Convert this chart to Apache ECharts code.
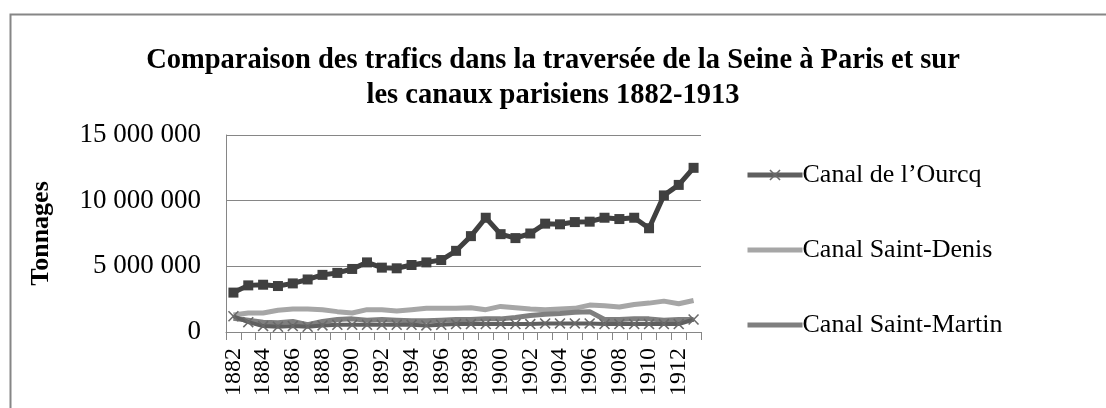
<!DOCTYPE html>
<html>
<head>
<meta charset="utf-8">
<script src="https://cdn.jsdelivr.net/npm/echarts@6/dist/echarts.min.js"></script>
<style>
  html, body { margin: 0; padding: 0; background: #fff; }
  #main { width: 1106px; height: 408px; }
</style>
</head>
<body>
<div id="main"></div>
<script>
// années 1882-1913
const years = [];
for (let y = 1882; y <= 1913; y++) years.push(String(y));

// traversée de la Seine (série du haut, carrés), en millions de tonnes
const seine = [3.0, 3.55, 3.6, 3.5, 3.7, 4.0, 4.35, 4.5, 4.8, 5.3, 4.9, 4.85, 5.1, 5.3, 5.48, 6.18,
  7.3, 8.7, 7.45, 7.15, 7.5, 8.25, 8.2, 8.37, 8.4, 8.7, 8.6, 8.7, 7.9, 10.4, 11.2, 12.5];
const ourcq = [1.2, 0.75, 0.45, 0.4, 0.45, 0.4, 0.5, 0.55, 0.55, 0.55, 0.55, 0.55, 0.55, 0.5, 0.55, 0.6,
  0.6, 0.6, 0.6, 0.6, 0.6, 0.65, 0.65, 0.65, 0.65, 0.6, 0.6, 0.6, 0.6, 0.6, 0.6, 0.95];
const saintDenis = [1.3, 1.45, 1.45, 1.65, 1.75, 1.75, 1.7, 1.55, 1.45, 1.7, 1.7, 1.6, 1.7, 1.8, 1.8, 1.8,
  1.85, 1.7, 1.95, 1.85, 1.75, 1.7, 1.75, 1.8, 2.05, 2.0, 1.9, 2.1, 2.2, 2.35, 2.15, 2.4];
const saintMartin = [1.05, 0.9, 0.75, 0.7, 0.8, 0.55, 0.8, 0.95, 1.0, 0.9, 0.95, 0.9, 0.85, 0.85, 0.9, 0.95,
  0.95, 1.0, 1.0, 1.1, 1.25, 1.35, 1.4, 1.5, 1.55, 0.95, 0.95, 1.0, 1.0, 0.9, 0.95, 0.95];

const toT = (arr) => arr.map((v) => Math.round(v * 1000000));
const serif = '"Liberation Serif", "Times New Roman", serif';
const crossPath = 'path://M0,1L1,0L5,4L9,0L10,1L6,5L10,9L9,10L5,6L1,10L0,9L4,5Z';
const barIcon = 'path://M0,0H55V5H0Z';

const myChart = echarts.init(document.getElementById('main'));
const option = {
  backgroundColor: '#fff',
  animation: false,
  graphic: [{
    type: 'rect',
    shape: { x: 10.5, y: 14.5, width: 1300, height: 600 },
    style: { fill: 'none', stroke: '#868686', lineWidth: 2 },
    silent: true
  }],
  title: {
    text: 'Comparaison des trafics dans la traversée de la Seine à Paris et sur\nles canaux parisiens 1882-1913',
    left: 'center',
    top: 38,
    textStyle: { fontFamily: serif, fontWeight: 'bold', fontSize: 28.5, lineHeight: 35, color: '#000' }
  },
  legend: {
    data: [
      { name: 'Canal de l’Ourcq' },
      { name: 'Canal Saint-Denis', icon: barIcon },
      { name: 'Canal Saint-Martin', icon: barIcon }
    ],
    orient: 'vertical',
    left: 740,
    top: 157,
    itemWidth: 55,
    itemHeight: 14,
    itemGap: 49,
    lineStyle: { width: 5 },
    textStyle: { fontFamily: serif, fontSize: 26, color: '#000', padding: [0, 0, 0, -5], lineHeight: 25 }
  },
  grid: { left: 226, right: 405, top: 135, bottom: 76 },
  xAxis: {
    type: 'category',
    data: years,
    boundaryGap: true,
    axisLine: { lineStyle: { color: '#868686', width: 1 } },
    axisTick: { show: true, interval: 0, length: 8, lineStyle: { color: '#868686' } },
    axisLabel: { interval: 1, rotate: 90, margin: 16, fontFamily: serif, fontSize: 24, color: '#000' }
  },
  yAxis: {
    type: 'value',
    min: 0,
    max: 15000000,
    interval: 5000000,
    name: 'Tonnages',
    nameLocation: 'middle',
    nameGap: 172,
    nameRotate: 90,
    nameTextStyle: { fontFamily: serif, fontWeight: 'bold', fontSize: 26, color: '#000' },
    axisLine: { show: true, lineStyle: { color: '#868686', width: 1 } },
    axisTick: { show: false },
    splitLine: { lineStyle: { color: '#868686', width: 1 } },
    axisLabel: {
      margin: 25,
      fontFamily: serif,
      fontSize: 27,
      color: '#000',
      formatter: (v) => String(v).replace(/\B(?=(\d{3})+(?!\d))/g, ' ')
    }
  },
  series: [
    {
      name: 'Canal Saint-Denis',
      type: 'line',
      data: toT(saintDenis),
      symbol: 'none',
      lineStyle: { color: '#a6a6a6', width: 5 },
      itemStyle: { color: '#a6a6a6' }
    },
    {
      name: 'Canal Saint-Martin',
      type: 'line',
      data: toT(saintMartin),
      symbol: 'none',
      lineStyle: { color: '#7f7f7f', width: 5 },
      itemStyle: { color: '#7f7f7f' }
    },
    {
      name: 'Canal de l’Ourcq',
      type: 'line',
      data: toT(ourcq),
      symbol: crossPath,
      symbolSize: 11,
      showAllSymbol: true,
      lineStyle: { color: '#5f5f5f', width: 4 },
      itemStyle: { color: '#6a6a6a' }
    },
    {
      name: 'Traversée de la Seine',
      type: 'line',
      data: toT(seine),
      symbol: 'rect',
      symbolSize: 10,
      showAllSymbol: true,
      lineStyle: { color: '#404040', width: 5 },
      itemStyle: { color: '#404040' }
    }
  ]
};
myChart.setOption(option);
</script>
</body>
</html>
